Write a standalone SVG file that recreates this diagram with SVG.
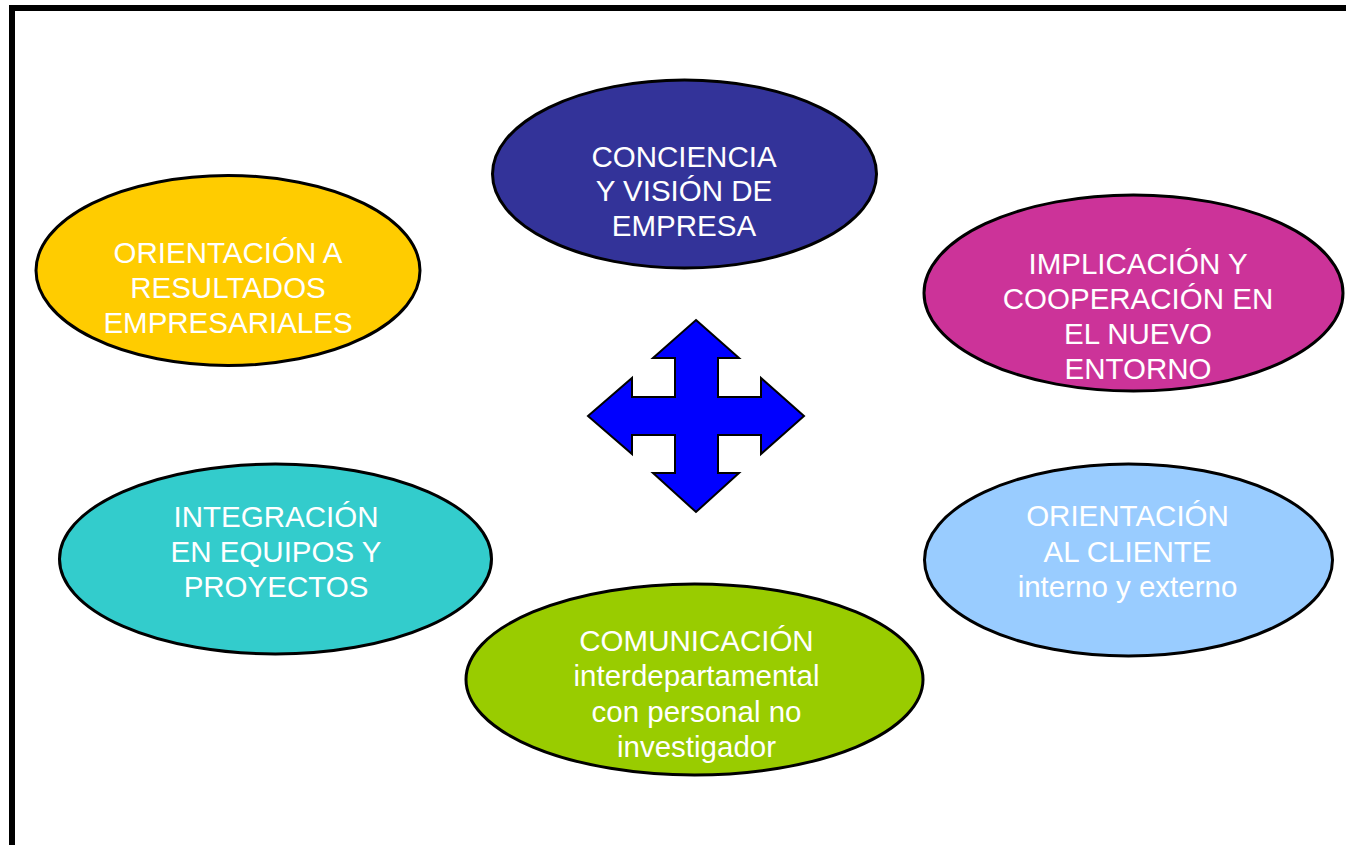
<svg xmlns="http://www.w3.org/2000/svg" width="1346" height="845" viewBox="0 0 1346 845">
<style>
.node ellipse { stroke: #000; stroke-width: 3; }
.node text { font-family: "Liberation Sans", Arial, sans-serif; font-size: 29.5px; fill: #FFFFFF; text-anchor: middle; }
</style>
<rect width="1346" height="845" fill="#FFFFFF"/>
<path d="M12,850 L12,8 L1352,8" fill="none" stroke="#000" stroke-width="6"/>
<g id="center-arrow">
<polygon points="696,320 739,358 718,358 718,397 761,397 761,378 804,416 761,454 761,435 718,435 718,473 739,473 696,512 653,473 675,473 675,435 632,435 632,454 588,416 632,378 632,397 675,397 675,358 653,358" fill="#0000FF" stroke="#000" stroke-width="2" stroke-linejoin="miter"/>
</g>
<g id="conciencia" class="node">
<ellipse cx="684.5" cy="174" rx="192" ry="94" fill="#333399"/>
<text x="684" y="166.5">CONCIENCIA</text>
<text x="684" y="201">Y VISIÓN DE</text>
<text x="684" y="236">EMPRESA</text>
</g>
<g id="orientacion-resultados" class="node">
<ellipse cx="228" cy="270.5" rx="192" ry="95" fill="#FFCC00"/>
<text x="228" y="262.5">ORIENTACIÓN A</text>
<text x="228" y="297.5">RESULTADOS</text>
<text x="228" y="332.5">EMPRESARIALES</text>
</g>
<g id="implicacion" class="node">
<ellipse cx="1133.5" cy="293" rx="209.5" ry="98" fill="#CC3399"/>
<text x="1138" y="274">IMPLICACIÓN Y</text>
<text x="1138" y="309">COOPERACIÓN EN</text>
<text x="1138" y="344">EL NUEVO</text>
<text x="1138" y="379">ENTORNO</text>
</g>
<g id="integracion" class="node">
<ellipse cx="275.5" cy="559" rx="216" ry="95" fill="#33CCCC"/>
<text x="276" y="526.5">INTEGRACIÓN</text>
<text x="276" y="561.5">EN EQUIPOS Y</text>
<text x="276" y="596.5">PROYECTOS</text>
</g>
<g id="orientacion-cliente" class="node">
<ellipse cx="1128.5" cy="560" rx="204" ry="96" fill="#99CCFF"/>
<text x="1127.5" y="526">ORIENTACIÓN</text>
<text x="1127.5" y="561.5">AL CLIENTE</text>
<text x="1127.5" y="596.5">interno y externo</text>
</g>
<g id="comunicacion" class="node">
<ellipse cx="694.5" cy="679.5" rx="228.5" ry="95.5" fill="#99CC00"/>
<text x="696.5" y="651">COMUNICACIÓN</text>
<text x="696.5" y="686">interdepartamental</text>
<text x="696.5" y="721.5">con personal no</text>
<text x="696.5" y="756.5">investigador</text>
</g>
</svg>
